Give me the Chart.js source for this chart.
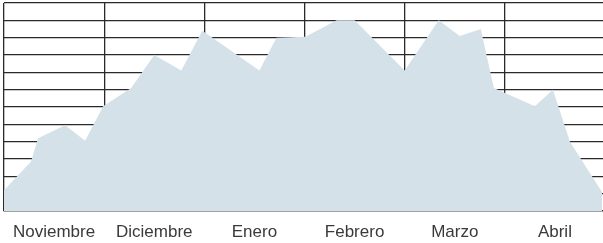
<!DOCTYPE html>
<html>
<head>
<meta charset="utf-8">
<script src="https://cdn.jsdelivr.net/npm/chart.js@4"></script>
<style>
  html, body { margin: 0; padding: 0; background: #fff; }
  #wrap { width: 603px; height: 243px; position: relative; }
</style>
</head>
<body>
<div id="wrap"><canvas id="c"></canvas></div>
<script>
// Month labels under each band
const months = ["Noviembre", "Diciembre", "Enero", "Febrero", "Marzo", "Abril"];

// Position of each sample, in months from the start of Noviembre
const positions = [0, 0.27, 0.34, 0.61, 0.81, 0.99, 1.27, 1.5, 1.77, 1.98,
  2.55, 2.72, 3.01, 3.32, 3.5, 4.0, 4.34, 4.55, 4.76, 4.89,
  5.3, 5.48, 5.65, 5.97];

// Values (grid units, 0 to 12)
const values = [1.2, 2.85, 4.2, 4.95, 4.05, 6.05, 7.1, 9.0, 8.1, 10.4,
  8.1, 10.0, 10.05, 11.0, 11.0, 8.1, 11.0, 10.1, 10.5, 7.1,
  6.05, 7.0, 4.0, 1.1];

const points = positions.map((x, i) => ({ x: x, y: values[i] }));

const gridColor = '#2a2a2a';
const labelFont = {
  family: "'Liberation Sans Narrow', 'Liberation Sans', Arial, sans-serif",
  size: 17
};

new Chart(document.getElementById('c'), {
  type: 'line',
  data: {
    datasets: [{
      data: points,
      fill: 'origin',
      backgroundColor: 'rgb(212, 225, 233)',
      borderWidth: 0,
      pointRadius: 0,
      tension: 0
    }]
  },
  options: {
    responsive: true,
    maintainAspectRatio: false,
    animation: false,
    events: [],
    layout: { padding: { left: 4, top: 3, right: 0, bottom: 1 } },
    plugins: { legend: { display: false }, tooltip: { enabled: false } },
    scales: {
      x: {
        type: 'linear',
        min: 0,
        max: 5.98,
        z: 1,
        afterBuildTicks: axis => {
          axis.ticks = months.map((m, i) => ({ value: i }));
        },
        afterFit: axis => { axis.height = 0; },
        grid: { color: gridColor, lineWidth: 1.3, drawTicks: false },
        border: { display: true, color: gridColor, width: 1.3 },
        ticks: { display: false }
      },
      months: {
        type: 'linear',
        position: 'bottom',
        min: 0,
        max: 5.98,
        afterBuildTicks: axis => {
          axis.ticks = months.map((m, i) => ({ value: i + 0.5 }));
        },
        afterFit: axis => { axis.height = 31; },
        grid: { display: false, drawTicks: false },
        border: { display: false },
        ticks: {
          color: '#3a3a3a',
          font: labelFont,
          padding: 11,
          maxRotation: 0,
          autoSkip: false,
          callback: v => months[Math.floor(v)]
        }
      },
      y: {
        min: 0,
        max: 12,
        z: 1,
        ticks: { stepSize: 1, display: false },
        grid: { color: gridColor, lineWidth: 1.3, drawTicks: false },
        border: { display: false }
      }
    }
  }
});
</script>
</body>
</html>
